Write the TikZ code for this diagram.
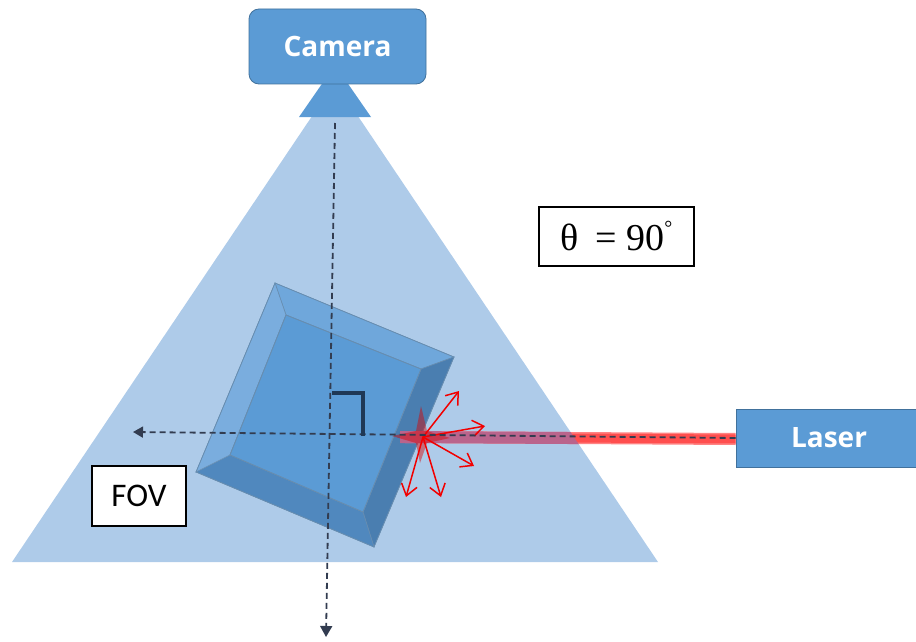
\documentclass[tikz,border=0pt]{standalone}
\usepackage{fontspec}
\newfontfamily\devfont{Open Sans}
\newfontfamily\tagfont{Carlito}
\newfontfamily\anglefont{Liberation Serif}
\usetikzlibrary{arrows.meta,positioning,calc}
\definecolor{devblue}{RGB}{91,155,213}
\definecolor{devedge}{RGB}{65,113,156}
\definecolor{fovblue}{RGB}{174,203,233}
\definecolor{facetop}{RGB}{111,167,219}
\definecolor{faceleft}{RGB}{122,173,222}
\definecolor{faceright}{RGB}{74,126,176}
\definecolor{facebot}{RGB}{80,136,190}
\definecolor{axisgray}{RGB}{50,60,80}
\definecolor{beamred}{RGB}{255,78,78}
\definecolor{beammix}{RGB}{186,100,140}
\definecolor{marknavy}{RGB}{31,56,85}

\begin{document}
\begin{tikzpicture}[x=1pt,y=-1pt,
  device/.style={fill=devblue, draw=devedge, line width=0.8pt, text=white,
    font=\devfont\bfseries\fontsize{28}{32}\selectfont},
  tag/.style={fill=white, draw=black, line width=1.2pt},
  axis/.style={dash pattern=on 6pt off 4pt, line width=1.8pt, draw=axisgray},
  ray/.style={-{Straight Barb[length=11pt,width=16pt,line width=1.5pt]}, draw=red!95!black, line width=1.5pt},
  facet/.style={draw=devedge!80, line width=0.6pt}
]
\useasboundingbox (0,0) rectangle (916,642);

% field of view and camera
\fill[fovblue] (335,82) -- (12,562) -- (658,562) -- cycle;
\fill[devblue] (335,65) -- (299,117) -- (371,117) -- cycle;
\node[device, rounded corners=10pt, minimum width=177pt, minimum height=75pt] (camera) at (337.5,46.5) {Camera};

% tilted sample with bevelled edges
\coordinate (o1) at (275,283); \coordinate (o2) at (454,357);
\coordinate (o3) at (374,547); \coordinate (o4) at (196,472);
\coordinate (i1) at (286,315); \coordinate (i2) at (421,369);
\coordinate (i3) at (363,512); \coordinate (i4) at (230,455);
\fill[facet, fill=facetop] (o1) -- (o2) -- (i2) -- (i1) -- cycle;
\fill[facet, fill=faceright] (o2) -- (o3) -- (i3) -- (i2) -- cycle;
\fill[facet, fill=facebot] (o3) -- (o4) -- (i4) -- (i3) -- cycle;
\fill[facet, fill=faceleft] (o4) -- (o1) -- (i1) -- (i4) -- cycle;
\fill[facet, fill=devblue] (i1) -- (i2) -- (i3) -- (i4) -- cycle;
\draw[facet] (o1) -- (o2) -- (o3) -- (o4) -- cycle (i1) -- (i2) -- (i3) -- (i4) -- cycle;

% laser box and beam
\node[device, minimum width=186pt, minimum height=58pt] (laser) at (829,438) {Laser};
\coordinate (hit) at (423,437);
\fill[beamred!70] (405,431) -- (laser.west |- 0,433) -- (laser.west |- 0,445) -- (405,443) -- cycle;
\fill[beamred] (405,432.5) -- (laser.west |- 0,434.5) -- (laser.west |- 0,443.5) -- (405,441.5) -- cycle;
\begin{scope}
  \clip (335,82) -- (12,562) -- (658,562) -- cycle;
  \fill[beammix] (400,431) -- (736,433) -- (736,445) -- (400,443) -- cycle;
\end{scope}
\fill[red!85!black, opacity=0.45] (421,406) -- (427,431) -- (450,438) -- (427,443)
  -- (420,463) -- (416,443) -- (392,436) -- (416,431) -- cycle;

% scattered rays
\foreach \tip in {(459,391),(485,426),(474,466),(441,497),(406,497)}
  \draw[ray] (hit) -- \tip;

% optical axes
\coordinate (camaxis) at (335,123);
\coordinate (bottomend) at (326,637);
\coordinate (leftend) at (133,432);
\draw[axis, -{Triangle[length=11pt,width=12pt]}] (camaxis) -- (bottomend);
\draw[axis, -{Triangle[length=10pt,width=11pt]}] (laser.west) -- (leftend);

% right angle between the axes
\draw[marknavy, line width=4pt] (332,393) -- (363,393) -- (363,436);

% labels
\node[tag, minimum width=155pt, minimum height=59pt, font=\anglefont\fontsize{38}{44}\selectfont] (angle) at (616.5,236.5) {θ\hspace{17pt}=\hspace{9pt}90\raisebox{0.42em}{\fontsize{20}{20}\selectfont °}};
\node[tag, minimum width=94pt, minimum height=60pt, font=\tagfont\fontsize{33}{38}\selectfont] (fov) at (139,496) {FOV};
\end{tikzpicture}
\end{document}
